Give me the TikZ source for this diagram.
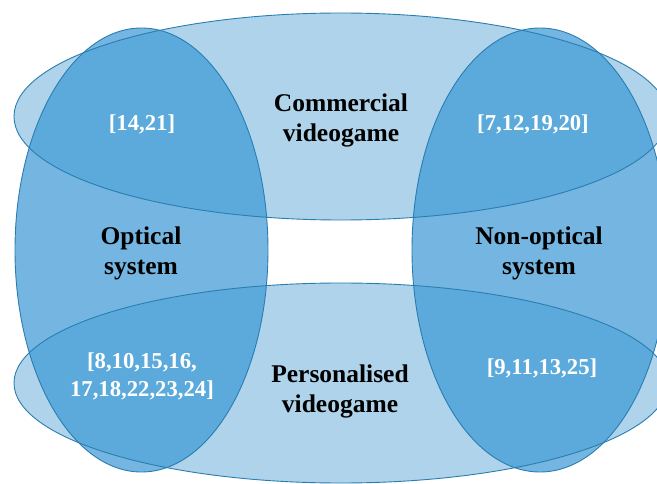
\documentclass[tikz,border=0pt]{standalone}
\usepackage{fontspec}
\setmainfont{Liberation Serif}
\definecolor{setlight}{HTML}{AED3EB}
\definecolor{setmid}{HTML}{74B6E1}
\definecolor{setdeep}{HTML}{5BAADB}
\definecolor{setline}{HTML}{2A7DB0}
\tikzset{
  outline/.style={draw=setline, line width=0.9pt},
  catlabel/.style={align=center, font=\fontsize{25.5}{30}\selectfont\bfseries, text=black, inner sep=0pt},
  reflabel/.style={align=center, font=\fontsize{22.7}{28}\selectfont\bfseries, text=white, inner sep=0pt},
}
\begin{document}
\begin{tikzpicture}[x=1pt,y=-1pt]
  \useasboundingbox (0,0) rectangle (657,484);
  \clip (0,0) rectangle (657,484);
  % set shapes
  \def\topset{(341,116.5) ellipse [x radius=327, y radius=103.5]}
  \def\botset{(341,383) ellipse [x radius=327, y radius=100]}
  \def\leftset{(141.5,250) ellipse [x radius=126.5, y radius=222]}
  \def\rightset{(540,250) ellipse [x radius=128, y radius=222]}
  % fills
  \fill[setmid] \leftset;
  \fill[setmid] \rightset;
  \fill[setlight] \topset;
  \fill[setlight] \botset;
  \begin{scope}
    \clip \leftset;
    \fill[setdeep] \topset;
    \fill[setdeep] \botset;
  \end{scope}
  \begin{scope}
    \clip \rightset;
    \fill[setdeep] \topset;
    \fill[setdeep] \botset;
  \end{scope}
  % outlines
  \path[outline] \topset;
  \path[outline] \botset;
  \path[outline] \leftset;
  \path[outline] \rightset;
  % category labels (anchored on the baseline of their last line)
  \node[catlabel, anchor=base] (commercial) at (341,142) {Commercial\\videogame};
  \node[catlabel, anchor=base] (optical) at (141,275) {Optical\\system};
  \node[catlabel, anchor=base] (nonoptical) at (539,275) {Non-optical\\system};
  \node[catlabel, anchor=base] (personal) at (340,412) {Personalised\\videogame};
  % reference labels
  \node[reflabel, anchor=base] (refA) at (142,131) {[14,21]};
  \node[reflabel, anchor=base] (refB) at (533,131) {[7,12,19,20]};
  \node[reflabel, anchor=base] (refC) at (142,396) {[8,10,15,16,\\17,18,22,23,24]};
  \node[reflabel, anchor=base] (refD) at (542,374) {[9,11,13,25]};
\end{tikzpicture}
\end{document}
